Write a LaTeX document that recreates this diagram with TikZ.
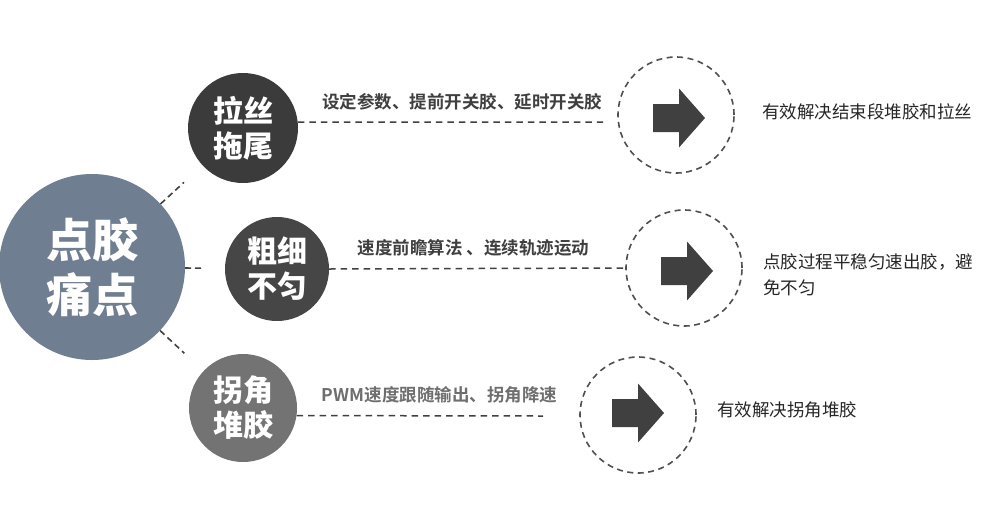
\documentclass[tikz,border=0pt]{standalone}
\usepackage{fontspec}
\setmainfont{Noto Sans CJK SC}[BoldFont={Noto Sans CJK SC Bold}]
\newfontfamily\heavyfont{Noto Sans CJK SC Black}
\usetikzlibrary{calc}
\definecolor{slate}{HTML}{6F7E91}
\definecolor{dk1}{HTML}{3B3B3B}
\definecolor{dk2}{HTML}{464646}
\definecolor{gy3}{HTML}{737373}
\definecolor{lnc}{HTML}{404040}
\definecolor{dcirc}{HTML}{505050}
\definecolor{txtdark}{HTML}{3F3F3F}
\definecolor{txtgray}{HTML}{6E6E6E}
\definecolor{txtr}{HTML}{262626}
\begin{document}
\begin{tikzpicture}[x=1pt,y=-1pt,
  bigc/.style={circle,fill=slate,minimum size=186pt,inner sep=0pt,text=white,
    font=\fontsize{46}{55}\heavyfont,align=center},
  painc/.style={circle,minimum size=#1,inner sep=0pt,text=white,
    font=\fontsize{30}{35}\heavyfont,align=center},
  dcircle/.style={circle,draw=dcirc,line width=1.6pt,dash pattern=on 6pt off 4.5pt,minimum size=116pt,inner sep=0pt},
  sline/.style={draw=lnc,line width=1.6pt,dash pattern=on 6pt off 4pt},
  dline/.style={draw=lnc,line width=1.5pt,dash pattern=on 6.5pt off 5pt},
  midtxt/.style={font=\fontsize{17.5}{21}\selectfont\bfseries,inner sep=0pt},
  restxt/.style={font=\fontsize{17.5}{26}\selectfont,text=txtr,inner sep=0pt,anchor=west,align=left},
  bigarrow/.style={fill=lnc}
]
\useasboundingbox (0,0) rectangle (990,528);
\fill[white] (0,0) rectangle (990,528);

% main circles
\node[bigc] (big) at (92,267) {点胶\\痛点};
\node[painc=110pt,fill=dk1] (c1) at (243,128) {拉丝\\拖尾};
\node[painc=104pt,fill=dk2] (c2) at (277,269) {粗细\\不匀};
\node[painc=108pt,fill=gy3] (c3) at (243,408) {拐角\\堆胶};

% short connectors
\draw[sline,shorten >=25pt] (big) -- (c1);
\draw[sline,shorten >=23pt] (big) -- (c2);
\draw[sline,shorten >=26pt] (big) -- (c3);

% dashed result circles
\node[dcircle] (d1) at (676,115) {};
\node[dcircle] (d2) at (684,268) {};
\node[dcircle] (d3) at (638,415) {};

% arrows inside
\fill[bigarrow,shift={(653,118)}] (0,-14) -- (26,-14) -- (26,-29.5) -- (52,0) -- (26,29.5) -- (26,14) -- (0,14) -- cycle;
\fill[bigarrow,shift={(661,271)}] (0,-14) -- (26,-14) -- (26,-29.5) -- (52,0) -- (26,29.5) -- (26,14) -- (0,14) -- cycle;
\fill[bigarrow,shift={(612,413)}] (0,-14) -- (26,-14) -- (26,-29.5) -- (52,0) -- (26,29.5) -- (26,14) -- (0,14) -- cycle;

% long connectors
\coordinate (e1) at (603,122);
\coordinate (e3) at (543,416);
\draw[dline] (c1.6) -- (e1);
\draw[dline] (c2.east) -- (d2.west);
\draw[dline] (c3.-8.5) -- (e3);

% method labels
\node[midtxt,text=txtdark] (m1) at (462,102) {设定参数、提前开关胶、延时开关胶};
\node[midtxt,text=txtdark] (m2) at (473.5,248) {速度前瞻算法 、连续轨迹运动};
\node[midtxt,text=txtgray] (m3) at (439.5,395) {PWM速度跟随输出、拐角降速};

% result texts
\node[restxt] (r1) at (762,112) {有效解决结束段堆胶和拉丝};
\node[restxt] (r2) at (763,275) {点胶过程平稳匀速出胶，避\\免不匀};
\node[restxt] (r3) at (717,410) {有效解决拐角堆胶};
\end{tikzpicture}
\end{document}
